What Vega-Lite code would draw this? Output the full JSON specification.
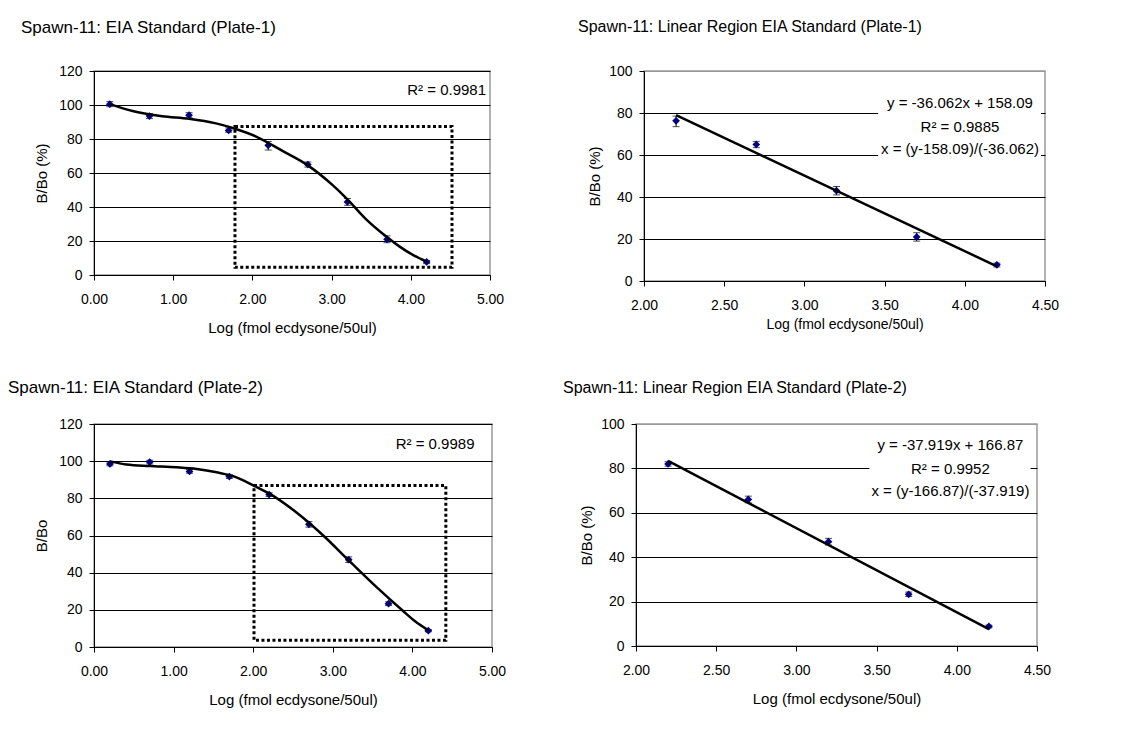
{
  "$schema": "https://vega.github.io/schema/vega-lite/v6.json",
  "background": "white",
  "autosize": {"type": "pad"},
  "padding": {"left": 7, "top": 18, "right": 10, "bottom": 10},
  "config": {
    "font": "Liberation Sans",
    "view": {"stroke": "#999999", "strokeWidth": 1.5},
    "title": {"font": "Liberation Sans", "fontWeight": "normal", "color": "#000", "anchor": "start", "frame": "group", "baseline": "alphabetic"},
    "axis": {"labelFont": "Liberation Sans", "labelFontSize": 14, "labelColor": "#000", "titleFont": "Liberation Sans", "titleFontSize": 15, "titleFontWeight": "normal", "titleColor": "#000", "domainColor": "#000", "domainWidth": 1, "tickColor": "#000", "tickSize": 5, "grid": false, "labelFlush": false, "labelOverlap": false},
    "axisX": {"labelPadding": 12, "titlePadding": 14},
    "axisY": {"labelPadding": 7, "titlePadding": 9}
  },
  "datasets": {
    "plate1": [
      {"x": 0.2, "y": 100.5, "lo": 99, "hi": 102},
      {"x": 0.7, "y": 93.5, "lo": 92, "hi": 95},
      {"x": 1.2, "y": 94, "lo": 92.5, "hi": 95.5},
      {"x": 1.7, "y": 85, "lo": 84, "hi": 86.5},
      {"x": 2.2, "y": 76.3, "lo": 73.5, "hi": 78.5},
      {"x": 2.7, "y": 65, "lo": 63.5, "hi": 66.5},
      {"x": 3.2, "y": 43, "lo": 41, "hi": 45},
      {"x": 3.7, "y": 21, "lo": 19, "hi": 23},
      {"x": 4.2, "y": 7.7, "lo": 6.7, "hi": 8.5}
    ],
    "plate2": [
      {"x": 0.2, "y": 98.5, "lo": 97.5, "hi": 99.5},
      {"x": 0.7, "y": 99.5, "lo": 98.5, "hi": 100.5},
      {"x": 1.2, "y": 94.5, "lo": 93.5, "hi": 95.5},
      {"x": 1.7, "y": 91.7, "lo": 90.7, "hi": 92.7},
      {"x": 2.2, "y": 82, "lo": 81, "hi": 83},
      {"x": 2.7, "y": 66, "lo": 64.5, "hi": 67.5},
      {"x": 3.2, "y": 47, "lo": 45.5, "hi": 48.5},
      {"x": 3.7, "y": 23.3, "lo": 22.3, "hi": 24.3},
      {"x": 4.2, "y": 8.8, "lo": 8.2, "hi": 9.4}
    ],
    "fit1": [
      {"x": 0.2, "y": 100.5}, {"x": 0.5, "y": 96.3}, {"x": 0.86, "y": 93.4}, {"x": 1.2, "y": 91.9},
      {"x": 1.54, "y": 89.2}, {"x": 1.75, "y": 86.5}, {"x": 2.04, "y": 81.6}, {"x": 2.38, "y": 73},
      {"x": 2.7, "y": 64.5}, {"x": 3.01, "y": 53}, {"x": 3.2, "y": 44.5}, {"x": 3.43, "y": 33},
      {"x": 3.69, "y": 22.6}, {"x": 3.85, "y": 17}, {"x": 4.02, "y": 12}, {"x": 4.2, "y": 7.9}
    ],
    "fit3": [
      {"x": 0.2, "y": 99.9}, {"x": 0.41, "y": 98.2}, {"x": 0.7, "y": 97.4}, {"x": 1.04, "y": 96.7},
      {"x": 1.29, "y": 95.8}, {"x": 1.54, "y": 94}, {"x": 1.79, "y": 91.3}, {"x": 2.0, "y": 87},
      {"x": 2.21, "y": 82.4}, {"x": 2.54, "y": 72.5}, {"x": 2.88, "y": 60}, {"x": 3.21, "y": 46.2},
      {"x": 3.55, "y": 32.2}, {"x": 3.88, "y": 19.5}, {"x": 4.03, "y": 14}, {"x": 4.2, "y": 9}
    ],
    "fit2": [{"x": 2.2, "y": 79}, {"x": 4.2, "y": 7}],
    "fit4": [{"x": 2.2, "y": 83.4}, {"x": 4.2, "y": 7.6}]
  },
  "bounds": "flush",
  "spacing": 353,
  "vconcat": [
    {
      "bounds": "flush",
      "spacing": 154,
      "hconcat": [
        {
          "width": 396, "height": 204,
          "title": {"text": "Spawn-11: EIA Standard (Plate-1)", "fontSize": 17, "dx": -73, "offset": 27},
          "layer": [
            {
              "data": {"values": [{}]},
              "mark": {"type": "rect", "fill": "transparent", "stroke": "#000", "strokeWidth": 3, "strokeDash": [3, 2.5]},
              "encoding": {
                "x": {"datum": 1.78, "type": "quantitative", "title": "Log (fmol ecdysone/50ul)", "scale": {"domain": [0, 5], "nice": false, "zero": false}, "axis": {"values": [0, 1, 2, 3, 4, 5], "format": ".2f"}},
                "x2": {"datum": 4.52},
                "y": {"datum": 87.3, "type": "quantitative", "title": "B/Bo (%)", "scale": {"domain": [0, 120], "nice": false}, "axis": {"values": [0, 20, 40, 60, 80, 100, 120], "tickCount": 7, "grid": true, "gridColor": "#000", "gridOpacity": 1}},
                "y2": {"datum": 4.5}
              }
            },
            {
              "data": {"name": "plate1"},
              "mark": {"type": "errorbar", "ticks": {"size": 7, "thickness": 1}, "color": "#000"},
              "encoding": {
                "x": {"field": "x", "type": "quantitative", "title": "Log (fmol ecdysone/50ul)", "scale": {"domain": [0, 5], "nice": false, "zero": false}, "axis": {"values": [0, 1, 2, 3, 4, 5], "format": ".2f"}},
                "y": {"field": "lo", "type": "quantitative", "title": "B/Bo (%)", "scale": {"domain": [0, 120], "nice": false}, "axis": {"values": [0, 20, 40, 60, 80, 100, 120], "tickCount": 7, "grid": true, "gridColor": "#000", "gridOpacity": 1}},
                "y2": {"field": "hi"}
              }
            },
            {
              "data": {"name": "plate1"},
              "mark": {"type": "point", "shape": "diamond", "filled": true, "color": "#000080", "opacity": 1, "size": 60},
              "encoding": {"x": {"field": "x", "type": "quantitative"}, "y": {"field": "y", "type": "quantitative"}}
            },
            {
              "data": {"name": "fit1"},
              "mark": {"type": "line", "color": "#000", "strokeWidth": 2.5, "interpolate": "monotone"},
              "encoding": {"x": {"field": "x", "type": "quantitative"}, "y": {"field": "y", "type": "quantitative"}}
            },
            {
              "data": {"values": [{"label": "R² = 0.9981"}]},
              "mark": {"type": "text", "align": "right", "baseline": "middle", "fontSize": 15, "color": "#000"},
              "encoding": {"x": {"datum": 4.95, "type": "quantitative"}, "y": {"datum": 109, "type": "quantitative"}, "text": {"field": "label"}}
            }
          ]
        },
        {
          "width": 401, "height": 210,
          "title": {"text": "Spawn-11: Linear Region EIA Standard (Plate-1)", "fontSize": 16, "dx": -66, "offset": 29},
          "layer": [
            {
              "data": {"values": [{}]},
              "mark": {"type": "rect", "fill": "white"},
              "encoding": {
                "x": {"datum": 3.46, "type": "quantitative", "title": "Log (fmol ecdysone/50ul)", "scale": {"domain": [2, 4.5], "nice": false, "zero": false}, "axis": {"values": [2, 2.5, 3, 3.5, 4, 4.5], "format": ".2f", "titleFontSize": 14, "titlePadding": 5}},
                "x2": {"datum": 4.475},
                "y": {"datum": 92, "type": "quantitative", "title": "B/Bo (%)", "scale": {"domain": [0, 100], "nice": false}, "axis": {"values": [0, 20, 40, 60, 80, 100], "grid": true, "titlePadding": 6, "gridColor": {"condition": {"test": "datum.value >= 100", "value": "#999999"}, "value": "#000"}, "gridOpacity": 1}},
                "y2": {"datum": 57}
              }
            },
            {
              "data": {"name": "plate1"},
              "transform": [{"filter": "datum.x >= 2"}],
              "mark": {"type": "errorbar", "ticks": {"size": 7, "thickness": 1}, "color": "#000"},
              "encoding": {
                "x": {"field": "x", "type": "quantitative", "title": "Log (fmol ecdysone/50ul)", "scale": {"domain": [2, 4.5], "nice": false, "zero": false}, "axis": {"values": [2, 2.5, 3, 3.5, 4, 4.5], "format": ".2f", "titleFontSize": 14, "titlePadding": 5}},
                "y": {"field": "lo", "type": "quantitative", "title": "B/Bo (%)", "scale": {"domain": [0, 100], "nice": false}, "axis": {"values": [0, 20, 40, 60, 80, 100], "grid": true, "titlePadding": 6, "gridColor": {"condition": {"test": "datum.value >= 100", "value": "#999999"}, "value": "#000"}, "gridOpacity": 1}},
                "y2": {"field": "hi"}
              }
            },
            {
              "data": {"name": "plate1"},
              "transform": [{"filter": "datum.x >= 2"}],
              "mark": {"type": "point", "shape": "diamond", "filled": true, "color": "#000080", "opacity": 1, "size": 60},
              "encoding": {"x": {"field": "x", "type": "quantitative"}, "y": {"field": "y", "type": "quantitative"}}
            },
            {
              "data": {"name": "fit2"},
              "mark": {"type": "line", "color": "#000", "strokeWidth": 2.5},
              "encoding": {"x": {"field": "x", "type": "quantitative"}, "y": {"field": "y", "type": "quantitative"}}
            },
            {
              "data": {"values": [{"label": "y = -36.062x + 158.09", "ly": 85}, {"label": "R² = 0.9885", "ly": 73.5}, {"label": "x = (y-158.09)/(-36.062)", "ly": 62.9}]},
              "mark": {"type": "text", "align": "center", "baseline": "middle", "fontSize": 15, "color": "#000"},
              "encoding": {"x": {"datum": 3.97, "type": "quantitative"}, "y": {"field": "ly", "type": "quantitative"}, "text": {"field": "label"}}
            }
          ]
        }
      ]
    },
    {
      "bounds": "flush",
      "spacing": 144,
      "hconcat": [
        {
          "width": 398, "height": 223,
          "title": {"text": "Spawn-11: EIA Standard (Plate-2)", "fontSize": 17, "dx": -86, "offset": 20},
          "layer": [
            {
              "data": {"values": [{}]},
              "mark": {"type": "rect", "fill": "transparent", "stroke": "#000", "strokeWidth": 3, "strokeDash": [3, 2.5]},
              "encoding": {
                "x": {"datum": 2.01, "type": "quantitative", "title": "Log (fmol ecdysone/50ul)", "scale": {"domain": [0, 5], "nice": false, "zero": false}, "axis": {"values": [0, 1, 2, 3, 4, 5], "format": ".2f"}},
                "x2": {"datum": 4.42},
                "y": {"datum": 86.9, "type": "quantitative", "title": "B/Bo", "scale": {"domain": [0, 120], "nice": false}, "axis": {"values": [0, 20, 40, 60, 80, 100, 120], "tickCount": 7, "grid": true, "gridColor": "#000", "gridOpacity": 1}},
                "y2": {"datum": 3.6}
              }
            },
            {
              "data": {"name": "plate2"},
              "mark": {"type": "errorbar", "ticks": {"size": 7, "thickness": 1}, "color": "#000"},
              "encoding": {
                "x": {"field": "x", "type": "quantitative", "title": "Log (fmol ecdysone/50ul)", "scale": {"domain": [0, 5], "nice": false, "zero": false}, "axis": {"values": [0, 1, 2, 3, 4, 5], "format": ".2f"}},
                "y": {"field": "lo", "type": "quantitative", "title": "B/Bo", "scale": {"domain": [0, 120], "nice": false}, "axis": {"values": [0, 20, 40, 60, 80, 100, 120], "tickCount": 7, "grid": true, "gridColor": "#000", "gridOpacity": 1}},
                "y2": {"field": "hi"}
              }
            },
            {
              "data": {"name": "plate2"},
              "mark": {"type": "point", "shape": "diamond", "filled": true, "color": "#000080", "opacity": 1, "size": 60},
              "encoding": {"x": {"field": "x", "type": "quantitative"}, "y": {"field": "y", "type": "quantitative"}}
            },
            {
              "data": {"name": "fit3"},
              "mark": {"type": "line", "color": "#000", "strokeWidth": 2.5, "interpolate": "monotone"},
              "encoding": {"x": {"field": "x", "type": "quantitative"}, "y": {"field": "y", "type": "quantitative"}}
            },
            {
              "data": {"values": [{"label": "R² = 0.9989"}]},
              "mark": {"type": "text", "align": "right", "baseline": "middle", "fontSize": 15, "color": "#000"},
              "encoding": {"x": {"datum": 4.78, "type": "quantitative"}, "y": {"datum": 109.3, "type": "quantitative"}, "text": {"field": "label"}}
            }
          ]
        },
        {
          "width": 401, "height": 222,
          "title": {"text": "Spawn-11: Linear Region EIA Standard (Plate-2)", "fontSize": 16, "dx": -73, "offset": 21},
          "layer": [
            {
              "data": {"values": [{}]},
              "mark": {"type": "rect", "fill": "white"},
              "encoding": {
                "x": {"datum": 3.455, "type": "quantitative", "title": "Log (fmol ecdysone/50ul)", "scale": {"domain": [2, 4.5], "nice": false, "zero": false}, "axis": {"values": [2, 2.5, 3, 3.5, 4, 4.5], "format": ".2f"}},
                "x2": {"datum": 4.46},
                "y": {"datum": 96, "type": "quantitative", "title": "B/Bo (%)", "scale": {"domain": [0, 100], "nice": false}, "axis": {"values": [0, 20, 40, 60, 80, 100], "grid": true, "titlePadding": 6, "gridColor": {"condition": {"test": "datum.value >= 100", "value": "#999999"}, "value": "#000"}, "gridOpacity": 1}},
                "y2": {"datum": 64}
              }
            },
            {
              "data": {"name": "plate2"},
              "transform": [{"filter": "datum.x >= 2"}],
              "mark": {"type": "errorbar", "ticks": {"size": 7, "thickness": 1}, "color": "#000"},
              "encoding": {
                "x": {"field": "x", "type": "quantitative", "title": "Log (fmol ecdysone/50ul)", "scale": {"domain": [2, 4.5], "nice": false, "zero": false}, "axis": {"values": [2, 2.5, 3, 3.5, 4, 4.5], "format": ".2f"}},
                "y": {"field": "lo", "type": "quantitative", "title": "B/Bo (%)", "scale": {"domain": [0, 100], "nice": false}, "axis": {"values": [0, 20, 40, 60, 80, 100], "grid": true, "titlePadding": 6, "gridColor": {"condition": {"test": "datum.value >= 100", "value": "#999999"}, "value": "#000"}, "gridOpacity": 1}},
                "y2": {"field": "hi"}
              }
            },
            {
              "data": {"name": "plate2"},
              "transform": [{"filter": "datum.x >= 2"}],
              "mark": {"type": "point", "shape": "diamond", "filled": true, "color": "#000080", "opacity": 1, "size": 60},
              "encoding": {"x": {"field": "x", "type": "quantitative"}, "y": {"field": "y", "type": "quantitative"}}
            },
            {
              "data": {"name": "fit4"},
              "mark": {"type": "line", "color": "#000", "strokeWidth": 2.5},
              "encoding": {"x": {"field": "x", "type": "quantitative"}, "y": {"field": "y", "type": "quantitative"}}
            },
            {
              "data": {"values": [{"label": "y = -37.919x + 166.87", "ly": 90.5}, {"label": "R² = 0.9952", "ly": 79.6}, {"label": "x = (y-166.87)/(-37.919)", "ly": 69.7}]},
              "mark": {"type": "text", "align": "center", "baseline": "middle", "fontSize": 15, "color": "#000"},
              "encoding": {"x": {"datum": 3.96, "type": "quantitative"}, "y": {"field": "ly", "type": "quantitative"}, "text": {"field": "label"}}
            }
          ]
        }
      ]
    }
  ]
}
